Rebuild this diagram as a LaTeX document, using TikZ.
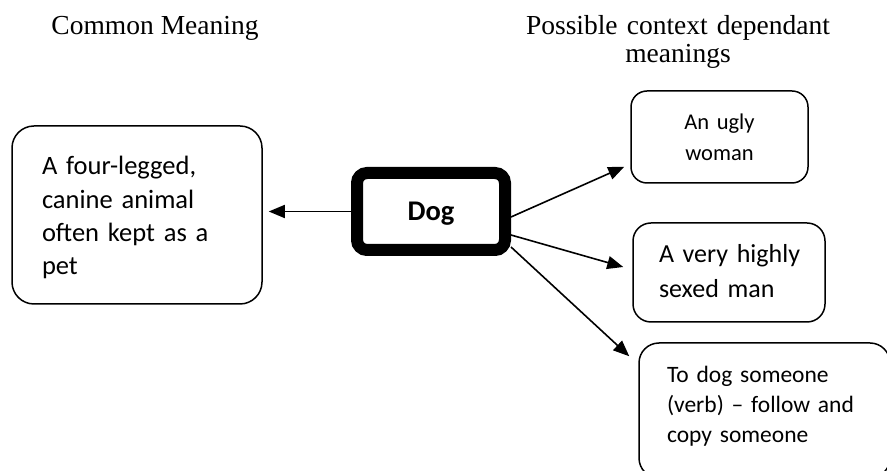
\documentclass[tikz,border=0pt]{standalone}
\usepackage{fontspec}
\setmainfont{Liberation Serif}
\newfontfamily\calib{Carlito}
\usetikzlibrary{arrows.meta}
\tikzset{
  box/.style={draw=black, line width=1.5pt, rectangle, inner sep=0pt, outer sep=0.75pt, text height=0pt},
  dogbox/.style={draw=black, line width=12pt, rectangle, rounded corners=10pt, inner sep=0pt, outer sep=6pt,
    minimum width=148pt, minimum height=77pt, text height=19pt, text depth=0pt,
    font=\calib\bfseries\fontsize{28.5}{34}\selectfont},
  arr/.style={draw=black, line width=1.6pt, -{Triangle[length=16pt,width=13pt]}},
  header/.style={font=\fontsize{27.5}{28}\selectfont, inner sep=0pt, anchor=base, align=center}
}
\begin{document}
\begin{tikzpicture}[x=1pt,y=1pt]
\clip (0,0) rectangle (887,471);
\fill[white] (0,0) rectangle (887,471);
% headers
\node[header] (h1) at (155,436) {Common Meaning};
\node[header, text width=340pt] (h2) at (678,436) {\mbox{Possible context dependant}\\\mbox{meanings}};
% left box
\node[box, rounded corners=22pt, minimum width=250pt, minimum height=178pt, text width=190pt, align=left,
  text depth=80pt, font=\calib\fontsize{26.5}{33.3}\selectfont] (lbox) at (137,256)
  {\mbox{A four-legged,}\\\mbox{canine animal}\\\mbox{often kept as a}\\\mbox{pet}};
% centre
\node[dogbox] (dog) at (431,259.5) {Dog};
% right boxes
\node[box, rounded corners=16pt, minimum width=177pt, minimum height=92pt, text width=160pt, align=center,
  text depth=14pt, font=\calib\fontsize{22.5}{31}\selectfont] (b1) at (719.5,334)
  {\mbox{An ugly}\\\mbox{woman}};
\node[box, rounded corners=18pt, minimum width=192pt, minimum height=99pt, text width=140pt, align=left,
  text depth=19pt, font=\calib\fontsize{26}{35}\selectfont] (b2) at (729,198.5)
  {\mbox{A very highly}\\\mbox{sexed man}};
\node[box, rounded corners=20pt, minimum width=251pt, minimum height=135pt, text width=195pt, align=left,
  text depth=55pt, font=\calib\fontsize{23.5}{30}\selectfont] (b3) at (764.5,60.5)
  {\mbox{To dog someone}\\\mbox{(verb) – follow and}\\\mbox{copy someone}};
% connectors
\draw[arr, shorten >=6pt] (dog.west) -- (dog.west -| lbox.east);
\draw[arr] ([yshift=-5.5pt]dog.east) -- ([xshift=-6pt,yshift=17pt]b1.south west);
\draw[arr] ([yshift=-23.5pt]dog.east) -- ([xshift=-9pt,yshift=5.5pt]b2.west);
\draw[arr] ([yshift=-35.5pt]dog.east) -- ([xshift=-9pt,yshift=-14pt]b3.north west);
\end{tikzpicture}
\end{document}
